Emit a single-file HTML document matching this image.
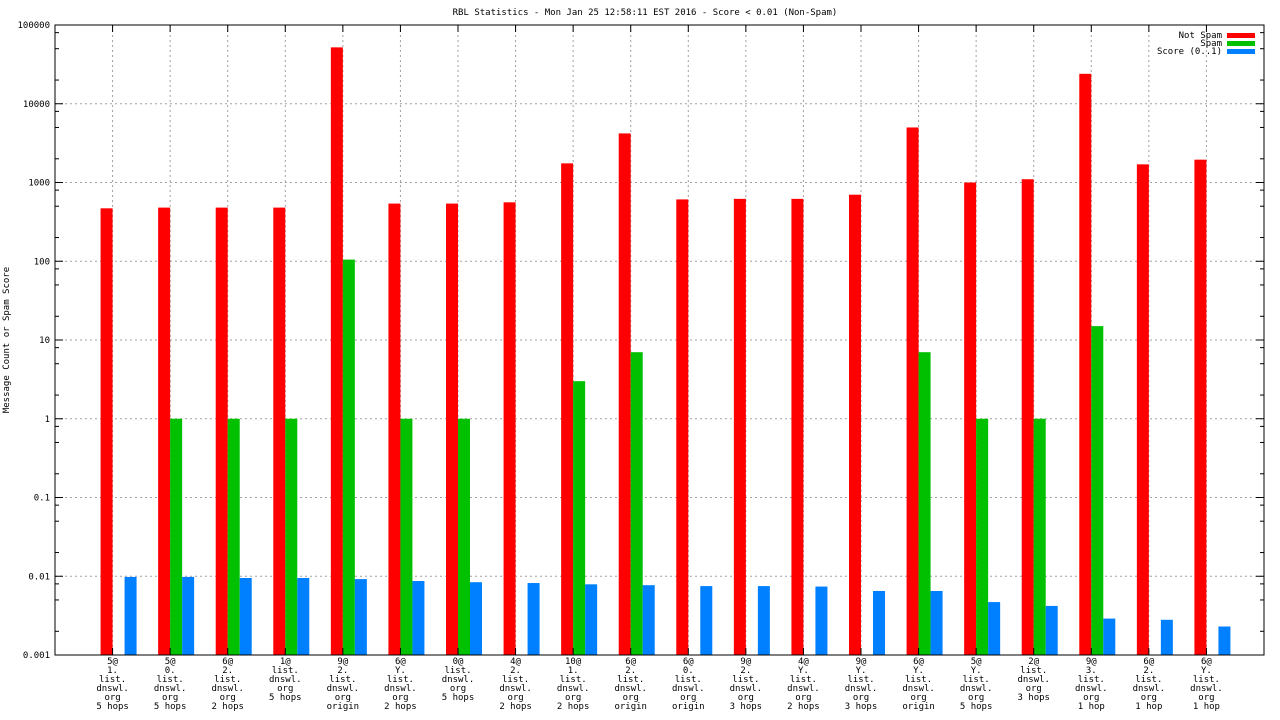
<!DOCTYPE html>
<html><head><meta charset="utf-8"><style>
html,body{margin:0;padding:0;background:#fff;}
svg{display:block;font-family:"DejaVu Sans Mono","Liberation Mono",monospace;}
</style></head><body>
<svg id="chart" width="1280" height="720" xmlns="http://www.w3.org/2000/svg">
<text x="645" y="15" font-size="9" text-anchor="middle">RBL Statistics - Mon Jan 25 12:58:11 EST 2016 - Score &lt; 0.01 (Non-Spam)</text>
<text transform="translate(9,340) rotate(-90)" font-size="9" text-anchor="middle">Message Count or Spam Score</text>
<g id="grid"></g><g id="bars"></g><g id="axes"></g>
<g>
<g><text x="1222" y="38" font-size="9" text-anchor="end">Not Spam</text><rect x="1227" y="33" width="28" height="5" fill="#ff0000"/></g>
<g><text x="1222" y="46" font-size="9" text-anchor="end">Spam</text><rect x="1227" y="41" width="28" height="5" fill="#00c000"/></g>
<g><text x="1222" y="54" font-size="9" text-anchor="end">Score (0..1)</text><rect x="1227" y="49" width="28" height="5" fill="#0080ff"/></g>
</g>
</svg>
<script>
const categories=[["5@","1.","list.","dnswl.","org","5 hops"],["5@","0.","list.","dnswl.","org","5 hops"],["6@","2.","list.","dnswl.","org","2 hops"],["1@","list.","dnswl.","org","5 hops"],["9@","2.","list.","dnswl.","org","origin"],["6@","Y.","list.","dnswl.","org","2 hops"],["0@","list.","dnswl.","org","5 hops"],["4@","2.","list.","dnswl.","org","2 hops"],["10@","1.","list.","dnswl.","org","2 hops"],["6@","2.","list.","dnswl.","org","origin"],["6@","0.","list.","dnswl.","org","origin"],["9@","2.","list.","dnswl.","org","3 hops"],["4@","Y.","list.","dnswl.","org","2 hops"],["9@","Y.","list.","dnswl.","org","3 hops"],["6@","Y.","list.","dnswl.","org","origin"],["5@","Y.","list.","dnswl.","org","5 hops"],["2@","list.","dnswl.","org","3 hops"],["9@","3.","list.","dnswl.","org","1 hop"],["6@","2.","list.","dnswl.","org","1 hop"],["6@","Y.","list.","dnswl.","org","1 hop"]];
const notSpam=[470,480,480,480,52000,540,540,560,1750,4200,610,620,620,700,5000,1000,1100,24000,1700,1950];
const spam=[null,1,1,1,105,1,1,null,3,7,null,null,null,null,7,1,1,15,null,null];
const score=[0.0098,0.0098,0.0095,0.0095,0.0092,0.0087,0.0084,0.0082,0.0079,0.0077,0.0075,0.0075,0.0074,0.0065,0.0065,0.0047,0.0042,0.0029,0.0028,0.0023];
const yTicks=[0.001,0.01,0.1,1,10,100,1000,10000,100000];
const yTickLabels=["0.001","0.01","0.1","1","10","100","1000","10000","100000"];

const NS="http://www.w3.org/2000/svg";
const L=55,R=1264,T=25,B=655;
const yMin=-3,yMax=5;
function y(v){return B-(Math.log10(v)-yMin)/(yMax-yMin)*(B-T);}
const step=(R-L)/(categories.length+1);
function x(i){return L+(i+1)*step;}
function mk(tag,attrs,parent){const e=document.createElementNS(NS,tag);for(const k in attrs)e.setAttribute(k,attrs[k]);parent.appendChild(e);return e;}
const grid=document.getElementById('grid'),bars=document.getElementById('bars'),axes=document.getElementById('axes');
yTicks.forEach((v,i)=>{
  const yy=y(v);
  if(i>0&&i<yTicks.length-1){const g=mk('line',{x1:L,x2:R,y1:yy,y2:yy,stroke:'#a0a0a0','stroke-dasharray':'2,3','stroke-width':1},grid);
  
  }
  mk('line',{x1:L,x2:L+8,y1:yy,y2:yy,stroke:'#000'},axes);
  mk('line',{x1:R,x2:R-8,y1:yy,y2:yy,stroke:'#000'},axes);
  if(i<yTicks.length-1){[2,5,8].forEach(m=>{const ym=y(v*m);mk('line',{x1:L,x2:L+4,y1:ym,y2:ym,stroke:'#000'},axes);mk('line',{x1:R,x2:R-4,y1:ym,y2:ym,stroke:'#000'},axes);});}
  const t=mk('text',{x:L-5,y:yy+3,'font-size':9,'text-anchor':'end'},axes);t.textContent=yTickLabels[i];
  
  
});
categories.forEach((lab,i)=>{
  const c=x(i);
  const g=mk('line',{x1:c,x2:c,y1:T,y2:B,stroke:'#a0a0a0','stroke-dasharray':'2,3'},grid);
  
  
  mk('line',{x1:c,x2:c,y1:T,y2:T+7,stroke:'#000'},axes);
  mk('line',{x1:c,x2:c,y1:B,y2:B-7,stroke:'#000'},axes);
  const t=mk('text',{x:c,y:B+9,'font-size':9,'text-anchor':'middle'},axes);
  
  
  lab.forEach((s,k)=>{const ts=mk('tspan',{x:c,dy:k?9:0},t);ts.textContent=s;});
  const series=[[notSpam[i],'#ff0000',-12,'bar-not-spam'],[spam[i],'#00c000',0,'bar-spam'],[score[i],'#0080ff',12,'bar-score']];
  series.forEach(s=>{if(s[0]==null)return;const yy=y(s[0]);
    const r=mk('rect',{x:c+s[2],y:yy,width:12,height:B-yy,fill:s[1]},bars);
    
    });
});
const fr=mk('rect',{x:L,y:T,width:R-L,height:B-T,fill:'none',stroke:'#000','stroke-width':1},axes);


</script>
</body></html>
